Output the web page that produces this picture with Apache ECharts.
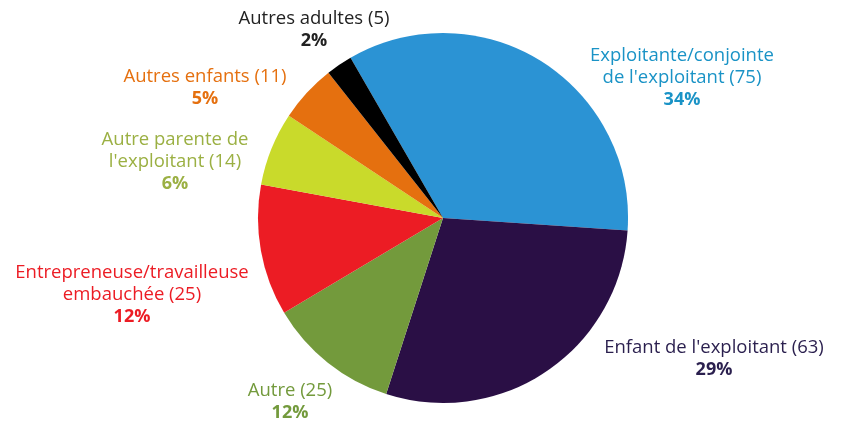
<!DOCTYPE html>
<html><head><meta charset="utf-8">
<script src="https://cdn.jsdelivr.net/npm/echarts@6/dist/echarts.min.js"></script>
<style>html,body{margin:0;padding:0;background:#fff}#c{width:846px;height:424px}</style>
</head><body><div id="c"></div>
<script>
const categories = ["Exploitante/conjointe\nde l'exploitant", "Enfant de l'exploitant", "Autre", "Entrepreneuse/travailleuse\nembauchée", "Autre parente de\nl'exploitant", "Autres enfants", "Autres adultes"];
const counts = [75, 63, 25, 25, 14, 11, 5];
const percents = ["34%", "29%", "12%", "12%", "6%", "5%", "2%"];
const sliceColors = ["#2B93D4", "#2A0F45", "#739A3C", "#EC1C24", "#C9DA2B", "#E5700F", "#000000"];
const textColors = ["#1A93C6", "#2A1F4E", "#739A3C", "#EC1C24", "#9BB043", "#E5700F", "#222222"];
const labelPos = [[682, 78], [714, 359], [290, 402], [132, 295], [175, 162], [205, 88], [314, 30]];

const chart = echarts.init(document.getElementById('c'));
const FONT = 'Open Sans';
chart.setOption({
  animation: false,
  series: [{
    type: 'pie',
    center: [443, 218],
    radius: 185,
    startAngle: 120,
    clockwise: true,
    labelLine: { show: false },
    data: categories.map((n, i) => ({
      name: n, value: counts[i],
      itemStyle: { color: sliceColors[i] },
      label: {
        formatter: n + ' (' + counts[i] + ')' + '\n{p|' + percents[i] + '}',
        color: textColors[i],
        rich: { p: { fontWeight: 'bold', fontSize: 18, color: textColors[i], fontFamily: FONT, lineHeight: 22 } }
      }
    })),
    label: {
      show: true, position: 'outside', align: 'center', overflow: 'none', width: 400,
      fontFamily: FONT, fontSize: 18.5, lineHeight: 22
    },
    labelLayout: function (p) {
      const pos = labelPos[p.dataIndex];
      return { x: pos[0], y: pos[1], align: 'center', verticalAlign: 'middle' };
    }
  }]
});
</script></body></html>
